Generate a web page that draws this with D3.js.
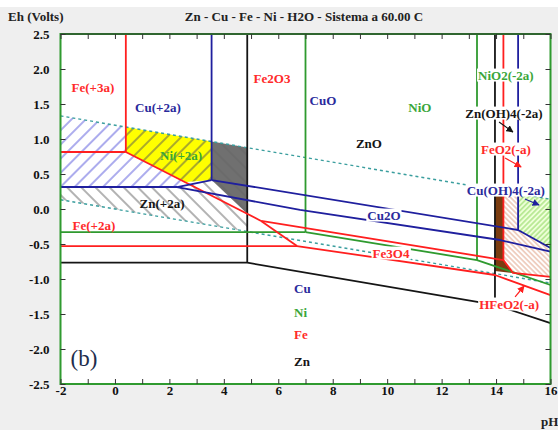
<!DOCTYPE html>
<html><head><meta charset="utf-8">
<script src="https://cdn.jsdelivr.net/npm/d3@7"></script>
<style>
body{margin:0;background:#efefef}
svg{display:block}
text{font-family:"Liberation Serif","Times New Roman",serif}
</style></head>
<body><svg id="c" width="558" height="430"></svg>
<script>
// ---------- data (pH, Eh in volts) ----------
const pHTicks = [-2,-1,0,1,2,3,4,5,6,7,8,9,10,11,12,13,14,15,16];
const pHLabels = [-2,0,2,4,6,8,10,12,14,16];
const ehTicks = [-2.5,-2,-1.5,-1,-0.5,0,0.5,1,1.5,2,2.5];

const waterO2 = [[-2,1.330],[16,0.140]];
const waterH2 = [[-2,0.132],[16,-1.058]];

const feLines = [
  [[0.4,2.5],[0.4,0.814]],
  [[-2,0.814],[0.4,0.814]],
  [[0.4,0.814],[5.37,-0.171]],
  [[5.37,-0.171],[6.69,-0.529]],
  [[-2,-0.529],[6.69,-0.529]],
  [[5.37,-0.171],[14.27,-0.729],[14.62,-0.914],[16,-0.971]],
  [[14.27,2.5],[14.27,-0.729]],
  [[6.69,-0.529],[13.96,-0.943],[16,-1.23]]
];
const niLines = [
  [[-2,-0.329],[7.0,-0.329]],
  [[7.0,2.5],[7.0,-0.329]],
  [[7.0,-0.329],[13.3,-0.729]],
  [[13.3,2.5],[13.3,-0.729]],
  [[13.3,-0.729],[16,-1.086]]
];
const cuLines = [
  [[3.55,2.5],[3.55,0.414]],
  [[-2,0.314],[2.28,0.314]],
  [[2.28,0.314],[3.55,0.414]],
  [[3.55,0.414],[14.81,-0.30],[16,-0.557]],
  [[14.81,2.5],[14.81,-0.30]],
  [[2.28,0.314],[6.8,-0.014],[14.15,-0.443],[16,-0.61]]
];
const znLines = [
  [[4.86,2.5],[4.86,-0.767]],
  [[-2,-0.767],[4.86,-0.767],[13.96,-1.37],[16,-1.629]],
  [[13.96,2.5],[13.96,-1.37]]
];

const znRegion = [[-2,0.314],[2.28,0.314],[3.55,0.414],[3.55,0.963],[4.86,0.877],[4.86,-0.321],[-2,0.132]];
const grayRegion = [[3.55,0.963],[4.86,0.877],[4.86,-0.069],[3.55,0.414]];
const niRegion = [[0.4,1.172],[3.55,0.963],[3.55,0.414],[2.62,0.385],[0.4,0.814]];
const cuRegion = [[-2,1.330],[0.4,1.172],[0.4,0.814],[2.62,0.385],[2.28,0.314],[-2,0.314]];
const brownRegion = [[13.96,0.275],[14.27,0.255],[14.27,-0.729],[14.62,-0.914],[13.96,-0.886]];
const feO2Region = [[14.27,0.255],[16,0.140],[16,-0.971],[14.62,-0.914],[14.27,-0.729]];
const cuOHRegion = [[14.81,0.219],[16,0.140],[16,-0.557],[14.81,-0.30]];

const speciesLabels = [
  ["Fe(+3a)",-0.81,1.743,"fe",false],
  ["Cu(+2a)",1.58,1.457,"cu",false],
  ["Fe2O3",5.77,1.871,"fe",false],
  ["CuO",7.64,1.557,"cu",false],
  ["NiO",11.20,1.457,"ni",false],
  ["ZnO",9.33,0.943,"zn",false],
  ["NiO2(-2a)",14.36,1.914,"ni",true],
  ["Zn(OH)4(-2a)",14.29,1.371,"zn",true],
  ["FeO2(-a)",14.36,0.857,"fe",true],
  ["Cu(OH)4(-2a)",14.36,0.271,"cu",true],
  ["Ni(+2a)",2.43,0.771,"ni",false],
  ["Zn(+2a)",1.73,0.086,"zn",false],
  ["Fe(+2a)",-0.77,-0.229,"fe",false],
  ["Cu2O",9.88,-0.086,"cu",true],
  ["Fe3O4",10.14,-0.629,"fe",true],
  ["HFeO2(-a)",14.48,-1.357,"fe",true]
];
const arrows = [
  [[14.11,1.243],[14.62,1.10],"zn"],
  [[14.33,0.729],[14.92,0.60],"fe"],
  [[15.06,0.143],[15.58,0.057],"cu"],
  [[14.70,-1.257],[15.03,-1.10],"fe"]
];
const legendItems = [["Cu","cu",-1.129],["Ni","ni",-1.471],["Fe","fe",-1.786],["Zn","zn",-2.171]];
const legendPH = 6.58;

// ---------- styles ----------
const lineCol = {fe:"#ff1f1f", ni:"#2f9a2f", cu:"#1f1f9e", zn:"#151515"};
const textCol = {fe:"#ff2a2a", ni:"#3aa63a", cu:"#2a2a9c", zn:"#151515"};

const svg = d3.select("#c");
svg.append("rect").attr("width",558).attr("height",7).attr("fill","#fff");

const x = d3.scaleLinear().domain([-2,16]).range([60.5,550.5]);
const y = d3.scaleLinear().domain([-2.5,2.5]).range([384,34]);
const line = d3.line().x(d=>x(d[0])).y(d=>y(d[1]));
const poly = pts => line(pts) + "Z";

const defs = svg.append("defs");
defs.append("clipPath").attr("id","clip").append("rect")
  .attr("x",x(-2)).attr("y",y(2.5)).attr("width",x(16)-x(-2)).attr("height",y(-2.5)-y(2.5));
function hatch(id,color,s,angle,bg,w){
  const p = defs.append("pattern").attr("id",id).attr("patternUnits","userSpaceOnUse")
    .attr("width",s).attr("height",s).attr("patternTransform",`rotate(${angle})`);
  if(bg) p.append("rect").attr("width",s).attr("height",s).attr("fill",bg);
  p.append("line").attr("x1",s/2).attr("x2",s/2).attr("y1",0).attr("y2",s)
    .attr("stroke",color).attr("stroke-width",w);
}
hatch("hZn","#666",10,-45,null,1);
hatch("hCu","#5a5adc",10,45,null,1);
hatch("hNi","#555",10,45,null,1);
hatch("hFe","#e2a68c",3.6,-45,null,1);
hatch("hCuOH","#8fd860",3.6,45,"#eeffd8",1);
defs.append("marker").attr("id","arr").attr("viewBox","0 0 10 10").attr("refX",9).attr("refY",5)
  .attr("markerWidth",6).attr("markerHeight",6).attr("orient","auto-start-reverse")
  .append("path").attr("d","M0,0L10,5L0,10Z").attr("fill","context-stroke");

svg.append("rect").attr("x",x(-2)).attr("y",y(2.5)).attr("width",x(16)-x(-2)).attr("height",y(-2.5)-y(2.5)).attr("fill","#fff");

const g = svg.append("g").attr("clip-path","url(#clip)");
g.append("path").attr("d",poly(grayRegion)).attr("fill","#707070");
g.append("path").attr("d",poly(znRegion)).attr("fill","url(#hZn)");
g.append("path").attr("d",poly(niRegion)).attr("fill","#ffff00");
g.append("path").attr("d",poly(niRegion)).attr("fill","url(#hNi)");
g.append("path").attr("d",poly(cuRegion)).attr("fill","url(#hCu)");
g.append("path").attr("d",poly(feO2Region)).attr("fill","url(#hFe)");
g.append("path").attr("d",poly(cuOHRegion)).attr("fill","url(#hCuOH)");
g.append("path").attr("d",poly(brownRegion)).attr("fill","#7a3c10");

[waterO2,waterH2].forEach(w=>g.append("path").attr("d",line(w)).attr("fill","none")
  .attr("stroke","#3a9e9e").attr("stroke-width",1.4).attr("stroke-dasharray","3,3"));

function drawSet(set,key,wd){
  set.forEach(l=>g.append("path").attr("d",line(l)).attr("fill","none")
    .attr("stroke",lineCol[key]).attr("stroke-width",wd).attr("stroke-linejoin","round"));
}
drawSet(znLines,"zn",1.8);
drawSet(niLines,"ni",1.8);
drawSet(feLines,"fe",1.8);
drawSet(cuLines,"cu",1.8);

// labels
const lg = svg.append("g");
speciesLabels.forEach(([t,p,e,k,bg])=>{
  const gg = lg.append("g");
  const tx = gg.append("text").attr("x",x(p)).attr("y",y(e)).attr("dy","0.35em")
    .attr("text-anchor","middle").attr("font-size",13).attr("font-weight","bold").attr("fill",textCol[k]).text(t);
  if(bg){
    const b = tx.node().getBBox();
    gg.insert("rect","text").attr("x",b.x-1).attr("y",b.y+1).attr("width",b.width+2).attr("height",b.height-2).attr("fill","#fff");
  }
});
arrows.forEach(([a,b,k])=>{
  lg.append("line").attr("x1",x(a[0])).attr("y1",y(a[1])).attr("x2",x(b[0])).attr("y2",y(b[1]))
    .attr("stroke",lineCol[k]).attr("stroke-width",1.2).attr("marker-end","url(#arr)");
});
legendItems.forEach(([t,k,e])=>{
  lg.append("text").attr("x",x(legendPH)).attr("y",y(e)).attr("dy","0.35em")
    .attr("font-size",13).attr("font-weight","bold").attr("fill",textCol[k]).text(t);
});
lg.append("text").attr("x",x(-1.14)).attr("y",y(-2.129)).attr("dy","0.35em").attr("text-anchor","middle")
  .attr("font-size",23).attr("font-weight","normal").attr("fill","#1e2d4d").text("(b)");

// border
svg.append("rect").attr("x",x(-2)).attr("y",y(2.5)).attr("width",x(16)-x(-2)).attr("height",y(-2.5)-y(2.5))
  .attr("fill","none").attr("stroke","#2f9a2f").attr("stroke-width",2);
svg.append("line").attr("x1",x(-2)).attr("x2",x(16)).attr("y1",y(2.5)).attr("y2",y(2.5)).attr("stroke","#333").attr("stroke-width",1.2);

// axes
function styleAxis(sel){
  sel.select(".domain").remove();
  sel.selectAll(".tick line").attr("stroke","#333");
  sel.selectAll("text").attr("font-size",13).attr("fill","#111")
    .attr("font-family",'"Liberation Serif","Times New Roman",serif').attr("font-weight","bold");
}
svg.append("g").attr("transform",`translate(0,${y(-2.5)})`)
  .call(d3.axisBottom(x).tickValues(pHTicks).tickSize(-5).tickPadding(2)
    .tickFormat(d=>pHLabels.includes(d)?String(d):"")).call(styleAxis);
svg.append("g").attr("transform",`translate(0,${y(2.5)})`)
  .call(d3.axisTop(x).tickValues(pHTicks).tickSize(-5).tickFormat("")).call(styleAxis);
svg.append("g").attr("transform",`translate(${x(-2)},0)`)
  .call(d3.axisLeft(y).tickValues(ehTicks).tickSize(-5).tickPadding(11)
    .tickFormat(d=>d.toFixed(1))).call(styleAxis);
svg.append("g").attr("transform",`translate(${x(16)},0)`)
  .call(d3.axisRight(y).tickValues(ehTicks).tickSize(-5).tickFormat("")).call(styleAxis);

// titles
svg.append("text").attr("x",304).attr("y",21).attr("text-anchor","middle").attr("font-size",13).attr("font-weight","bold")
  .attr("fill","#222").text("Zn - Cu - Fe - Ni - H2O - Sistema a 60.00 C");
svg.append("text").attr("x",8).attr("y",21).attr("font-size",13).attr("font-weight","bold").attr("fill","#222").text("Eh (Volts)");
svg.append("text").attr("x",541).attr("y",426).attr("font-size",13).attr("font-weight","bold").attr("fill","#222").text("pH");
</script></body></html>
